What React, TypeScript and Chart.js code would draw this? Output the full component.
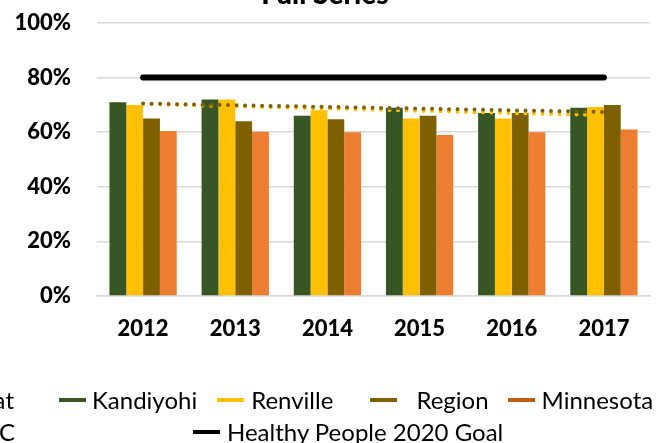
import React, { useEffect, useRef } from "react";
import { Chart, registerables } from "chart.js";

Chart.register(...registerables);

const titleText = "Full Series";
const years = ["2012", "2013", "2014", "2015", "2016", "2017"];
const kandiyohi = [71, 72, 66, 69, 67, 69];
const renville = [70, 72, 68, 65, 65, 69.2];
const region = [65, 64, 64.7, 66, 67, 70];
const minnesota = [60.4, 60.2, 60, 59, 60, 61];
const goal = [80, 80, 80, 80, 80, 80];
const kandiyohiTrend = [70.5, null, null, null, null, 67.4];
const renvilleTrend = [70.3, null, null, null, null, 66.2];
const yTicks = [0, 20, 40, 60, 80, 100];

const C_KAN = "#375623";
const C_REN = "#FFC000";
const C_REG = "#7F6000";
const C_MN = "#ED7D31";
const C_MN_LEG = "#C55A11";
const FONT = "Lato, 'Open Sans', sans-serif";

const OFFSET = 30;

export default function App() {
  const ref = useRef<HTMLCanvasElement | null>(null);

  useEffect(() => {
    if (!ref.current) return;
    const chart = new Chart(ref.current, {
      type: "bar",
      data: {
        labels: years,
        datasets: [
          {
            type: "line",
            label: "Healthy People 2020 Goal",
            data: goal,
            borderColor: "#000000",
            borderWidth: 6,
            borderCapStyle: "round",
            pointRadius: 0,
            order: 0,
          } as any,
          {
            type: "line",
            label: "Kandiyohi trend",
            data: kandiyohiTrend,
            borderColor: C_REG,
            borderWidth: 4,
            borderDash: [0, 8.5],
            borderCapStyle: "round",
            spanGaps: true,
            pointRadius: 0,
            order: 1,
          } as any,
          {
            type: "line",
            label: "Renville trend",
            data: renvilleTrend,
            borderColor: C_REN,
            borderWidth: 4,
            borderDash: [0, 8.5],
            borderCapStyle: "round",
            spanGaps: true,
            pointRadius: 0,
            order: 2,
          } as any,
          { label: "Kandiyohi", data: kandiyohi, backgroundColor: C_KAN, borderWidth: 0, order: 5 },
          { label: "Renville", data: renville, backgroundColor: C_REN, borderWidth: 0, order: 5 },
          { label: "Region", data: region, backgroundColor: C_REG, borderWidth: 0, order: 5 },
          { label: "Minnesota", data: minnesota, backgroundColor: C_MN, borderWidth: 0, order: 5 },
        ],
      },
      options: {
        responsive: false,
        animation: false,
        events: [],
        datasets: {
          bar: { barPercentage: 1.0, categoryPercentage: 0.73 },
        },
        layout: { padding: { left: 0, right: 17, top: 0, bottom: 100 } },
        plugins: {
          legend: { display: false },
          tooltip: { enabled: false },
          title: {
            display: true,
            text: titleText,
            color: "#000000",
            font: { family: FONT, size: 28, weight: "900" },
            padding: { top: 8, bottom: 11.4 },
          },
        },
        scales: {
          x: {
            grid: { display: false, drawTicks: false },
            border: { display: true, color: "#d9d9d9", width: 1.5 },
            ticks: {
              color: "#000000",
              font: { family: FONT, size: 22, weight: "900" },
              padding: 20,
              maxRotation: 0,
            },
            afterFit: (s: any) => {
              s.height = 47;
            },
          },
          y: {
            min: 0,
            max: 100,
            afterBuildTicks: (s: any) => {
              s.ticks = yTicks.map((v) => ({ value: v }));
            },
            grid: { color: "#d9d9d9", lineWidth: 1.6, drawTicks: false },
            border: { display: false },
            ticks: {
              color: "#000000",
              font: { family: FONT, size: 22, weight: "900" },
              padding: 26,
              callback: (v: any) => `${v}%`,
            },
            afterFit: (s: any) => {
              s.width = 97;
            },
          },
        },
      },
    });
    return () => chart.destroy();
  }, []);

  const legendText: React.CSSProperties = {
    fontFamily: FONT,
    fontSize: 24,
    lineHeight: "24px",
    color: "#000",
    whiteSpace: "nowrap",
  };
  const marker = (color: string): React.CSSProperties => ({
    display: "inline-block",
    width: 27,
    height: 4.5,
    background: color,
  });
  const item = (color: string, text: string, textGap: number, leftGap: number) => (
    <div style={{ display: "flex", alignItems: "center", marginLeft: leftGap }} key={text}>
      <span style={marker(color)} />
      <span style={{ ...legendText, marginLeft: textGap }}>{text}</span>
    </div>
  );

  return (
    <div
      style={{
        position: "fixed",
        left: 0,
        top: 0,
        width: 667,
        height: 443,
        overflow: "hidden",
        background: "#ffffff",
      }}
    >
      <canvas
        ref={ref}
        width={667}
        height={443 + OFFSET}
        style={{ position: "absolute", left: 0, top: -OFFSET, width: 667, height: 443 + OFFSET }}
      />
      <div style={{ position: "absolute", top: 388, left: 59, display: "flex", alignItems: "center" }}>
        {item(C_KAN, "Kandiyohi", 6, 0)}
        {item(C_REN, "Renville", 7, 20)}
        {item(C_REG, "Region", 19, 37)}
        {item(C_MN_LEG, "Minnesota", 7, 19)}
      </div>
      <div style={{ position: "absolute", top: 420, left: 193, display: "flex", alignItems: "center" }}>
        {item("#000000", "Healthy People 2020 Goal", 7, 0)}
      </div>
      <div style={{ ...legendText, position: "absolute", top: 388, left: -60, width: 74, textAlign: "right" }}>
        at
      </div>
      <div style={{ ...legendText, position: "absolute", top: 420, left: -60, width: 75, textAlign: "right" }}>
        C
      </div>
    </div>
  );
}
